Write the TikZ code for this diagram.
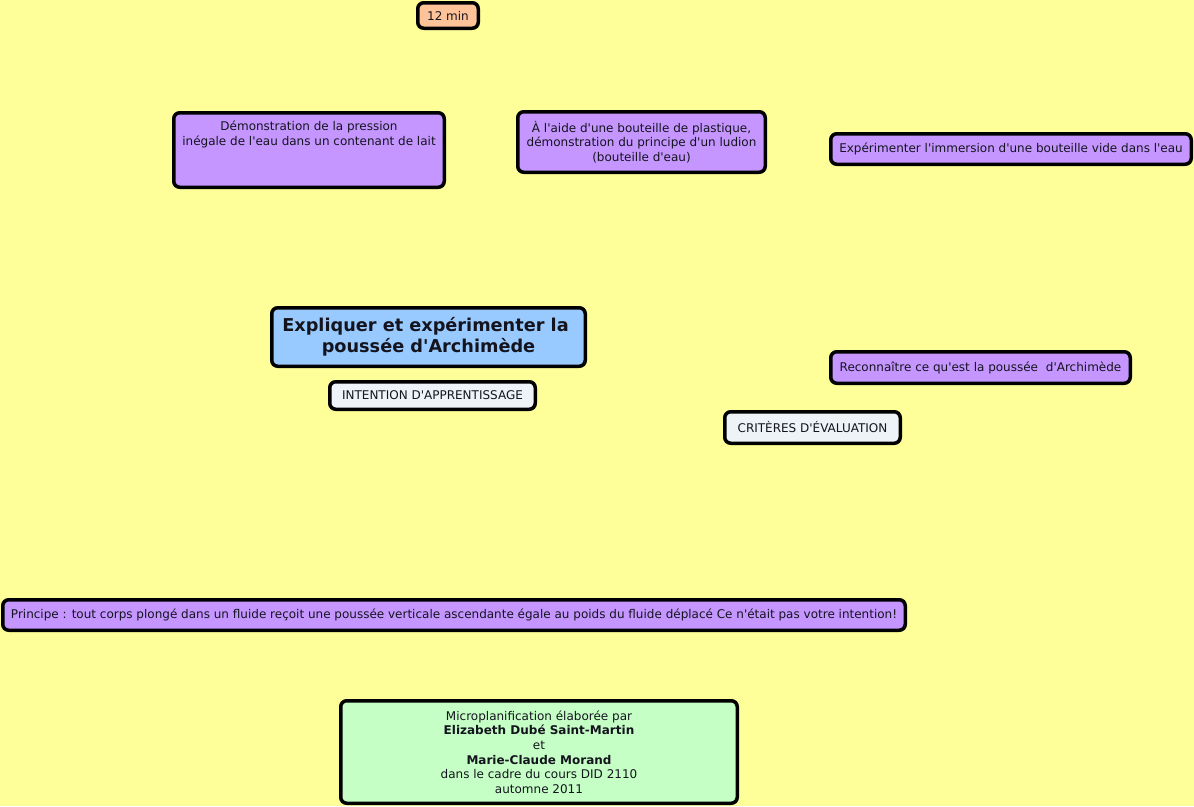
\documentclass[tikz,border=0pt]{standalone}
\usepackage{fontspec}
\newfontfamily\mapfont{DejaVu Sans}
\definecolor{bgyellow}{RGB}{255,255,153}
\definecolor{boxpurple}{RGB}{197,150,255}
\definecolor{boxblue}{RGB}{153,202,255}
\definecolor{boxgreen}{RGB}{198,255,198}
\definecolor{boxorange}{RGB}{255,195,153}
\definecolor{boxlight}{RGB}{238,243,247}
\definecolor{textdark}{RGB}{20,20,30}
\tikzset{
  mapbox/.style={draw=black, line width=3.5pt, rounded corners=6pt, align=center, inner sep=0pt,
    text=textdark, font=\mapfont\fontsize{12}{14.6}\selectfont},
  purplebox/.style={mapbox, fill=boxpurple},
  lightbox/.style={mapbox, fill=boxlight},
  plaintext/.style={align=center, inner sep=0pt, text=textdark, font=\mapfont\fontsize{12}{14.6}\selectfont}
}
\begin{document}
\begin{tikzpicture}[x=1pt,y=-1pt]
\fill[bgyellow] (0,0) rectangle (1194,806);
\useasboundingbox (0,0) rectangle (1194,806);

\node[mapbox, fill=boxorange, minimum width=60.5pt, minimum height=25.5pt] (time) at (448,15.5) {12 min};

\node[purplebox, minimum width=270.5pt, minimum height=74.5pt] (demo) at (309,150) {};
\node[plaintext] (demotxt) at (309,134.5) {Démonstration de la pression\\inégale de l'eau dans un contenant de lait};

\node[purplebox, minimum width=247.5pt, minimum height=60.5pt] (ludion) at (641.5,142) {À l'aide d'une bouteille de plastique,\\démonstration du principe d'un ludion\\(bouteille d'eau)};

\node[purplebox, minimum width=360.5pt, minimum height=30.5pt] (immersion) at (1011,149) {Expérimenter l'immersion d'une bouteille vide dans l'eau};

\node[mapbox, fill=boxblue, minimum width=313.5pt, minimum height=58.5pt, font=\mapfont\fontsize{17.7}{21}\selectfont\bfseries] (title) at (428.5,337) {Expliquer et expérimenter la\kern6pt\\poussée d'Archimède};

\node[lightbox, minimum width=205.5pt, minimum height=27.5pt] (intention) at (432.5,395.5) {INTENTION D'APPRENTISSAGE};

\node[purplebox, minimum width=299.5pt, minimum height=31.5pt] (reconn) at (980.5,367.5) {Reconnaître ce qu'est la poussée\kern4pt\ d'Archimède};

\node[lightbox, minimum width=175.5pt, minimum height=31.5pt] (criteres) at (812.5,427.5) {CRITÈRES D'ÉVALUATION};

\node[purplebox, minimum width=902.5pt, minimum height=30.5pt] (principe) at (454,615) {Principe : tout corps plongé dans un fluide reçoit une poussée verticale ascendante égale au poids du fluide déplacé Ce n'était pas votre intention!};

\node[mapbox, fill=boxgreen, minimum width=396.5pt, minimum height=102.5pt] (credits) at (539,752) {Microplanification élaborée par\\\textbf{Elizabeth Dubé Saint-Martin}\\et\\\textbf{Marie-Claude Morand}\\dans le cadre du cours DID 2110\\automne 2011};
\end{tikzpicture}
\end{document}
